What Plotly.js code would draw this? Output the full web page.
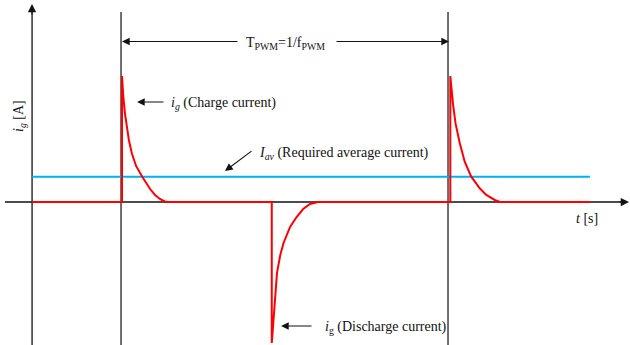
<!DOCTYPE html>
<html>
<head>
<meta charset="utf-8">
<script src="https://cdn.plot.ly/plotly-3.0.1.min.js"></script>
<style>html,body{margin:0;padding:0;background:#fff;}#chart{width:630px;height:345px;}</style>
</head>
<body>
<div id="chart"></div>
<script>
// ---- data (time in units of T_PWM, current in units of charge peak) ----
const pulseTimes = [0, 1];                 // PWM period boundaries
const currentT = [-0.275, 0.0, 0.0, 0.001, 0.004, 0.009, 0.014, 0.021, 0.030, 0.043, 0.062, 0.073, 0.086, 0.101, 0.116, 0.131, 0.141,
                  0.458, 0.458, 0.461, 0.464, 0.468, 0.474, 0.484, 0.494, 0.514, 0.534, 0.554, 0.575, 0.599,
                  1.004, 1.004, 1.007, 1.012, 1.020, 1.033, 1.048, 1.068, 1.094, 1.114, 1.140, 1.156, 1.431];
const currentI = [0, 0, 1.0, 0.942, 0.836, 0.704, 0.598, 0.492, 0.387, 0.286, 0.2, 0.151, 0.103, 0.056, 0.024, 0.004, 0,
                  0, -1.119, -1.016, -0.913, -0.778, -0.563, -0.421, -0.325, -0.198, -0.119, -0.056, -0.016, 0,
                  0, 1.0, 0.915, 0.783, 0.624, 0.466, 0.320, 0.201, 0.109, 0.056, 0.016, 0, 0];
const avgT = [-0.275, 1.431];
const avgI = [0.2, 0.2];

// ---- geometry helpers (pixel -> data) ----
const px2t = px => (px - 122) / 327;
const py2i = py => (202 - py) / 126;
const P = (px, py) => ({x: px / 630, y: 1 - py / 345});

const FONT = '"Liberation Serif", "Times New Roman", serif';
const fs = 14;

const traces = [
  {x: avgT, y: avgI, mode: 'lines', line: {color: '#00b0f0', width: 2}, hoverinfo: 'skip'},
  {x: currentT, y: currentI, mode: 'lines', line: {color: '#ff0000', width: 2}, hoverinfo: 'skip'}
];

const shapes = [
  {type: 'line', xref: 'x', yref: 'y', x0: px2t(5), x1: px2t(624), y0: 0, y1: 0, line: {color: '#111', width: 1.3}, layer: 'below'},
  {type: 'line', xref: 'x', yref: 'y', x0: -0.275, x1: -0.275, y0: py2i(10), y1: py2i(346), line: {color: '#111', width: 1.3}, layer: 'below'}
];
pulseTimes.forEach(t => shapes.push({type: 'line', xref: 'x', yref: 'y', x0: t - 0.003, x1: t - 0.003, y0: py2i(12), y1: py2i(346), line: {color: '#222', width: 1.3}, layer: 'below'}));

function arrow(hx, hy, ax, ay, size) {
  const p = P(hx, hy);
  return {xref: 'paper', yref: 'paper', x: p.x, y: p.y, ax: ax, ay: ay, text: '', showarrow: true,
          arrowhead: 2, arrowsize: size || 1.4, arrowwidth: 1.1, arrowcolor: '#111'};
}
function label(text, px, py, xanchor, angle) {
  const p = P(px, py);
  return {xref: 'paper', yref: 'paper', x: p.x, y: p.y, text: text, showarrow: false,
          xanchor: xanchor || 'left', yanchor: 'middle', textangle: angle || 0,
          font: {family: FONT, size: fs, color: '#111'}};
}

const annotations = [
  arrow(32, 4, 0, 12, 1.5),
  arrow(630, 202, -12, 0, 1.5),
  arrow(122, 41.5, 117, 0),
  arrow(449, 41.5, -114, 0),
  arrow(137, 102, 28, 0),
  arrow(225, 171, 28, -21),
  arrow(281, 326, 32, 0),
  label('T<sub>PWM</sub>=1/f<sub>PWM</sub>', 285, 44, 'center'),
  label('<i>i</i><sub><i>g</i></sub> (Charge current)', 169, 103),
  label('<i>I</i><sub><i>av</i></sub> (Required average current)', 257, 154),
  label('<i>i</i><sub>g</sub> (Discharge current)', 323, 327),
  label('<i>t</i> [s]', 574, 218),
  label('<i>i</i><sub><i>g</i></sub> [A]', 19, 116, 'center', -90)
];

const layout = {
  width: 630, height: 345,
  margin: {l: 0, r: 0, t: 0, b: 0},
  font: {family: FONT, size: fs, color: '#111'},
  paper_bgcolor: '#fff', plot_bgcolor: '#fff',
  showlegend: false,
  xaxis: {range: [px2t(0), px2t(630)], visible: false, fixedrange: true},
  yaxis: {range: [py2i(345), py2i(0)], visible: false, fixedrange: true},
  shapes: shapes,
  annotations: annotations
};

Plotly.newPlot('chart', traces, layout, {staticPlot: true, displayModeBar: false});
</script>
</body>
</html>
